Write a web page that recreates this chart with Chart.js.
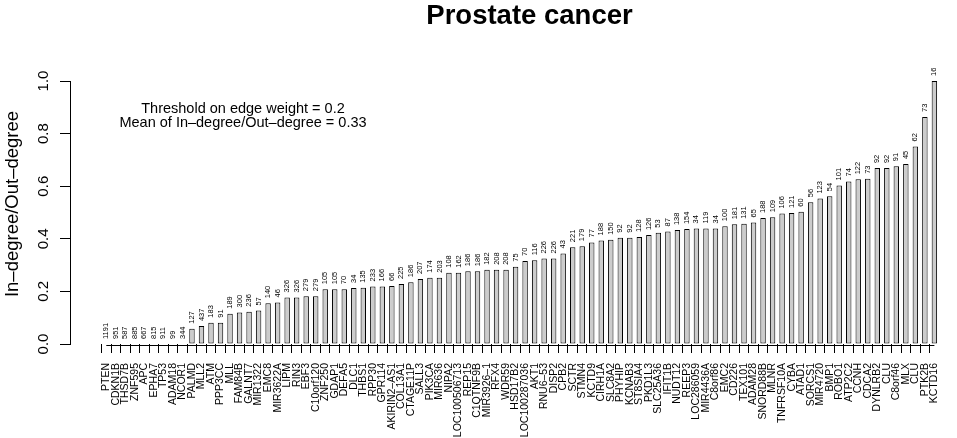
<!DOCTYPE html>
<html><head><meta charset="utf-8">
<script src="https://cdn.jsdelivr.net/npm/chart.js@4"></script>
<style>html,body{margin:0;padding:0;background:#fff}#wrap{width:957px;height:438px}</style>
</head><body><div id="wrap"><canvas id="c" width="957" height="438"></canvas></div>
<script>
const genes = ['PTEN','CDKN1B','THSD7B','ZNF595','APC','EPHA7','TP53','ADAM18','NCOR1','PALMD',
 'MLL2','ATM','PPP3CC','MLL','FAM84B','GALNT7','MIR1322','EMC8','MIR3622A','LIPM',
 'RIN3','EBF3','C10orf120','ZNF250','GDAP1','DEFA5','DLC1','THBS1','RPP30','GPR114',
 'AKIRIN2–AS1','COL13A1','CTAGE11P','SALL3','PIK3CA','MIR636','NIPA2','LOC100506713','REP15','C1QTNF9B',
 'MIR3926–1','RFX4','WDR59','HSD17B2','LOC100287036','AKT1','RNU6–53','DISP2','CPB2','SCTR',
 'STMN4','KCTD9','CIRH1A','SLC8A2','PHYHIP','KCNAB3','ST8SIA4','PKD1L3','SLC25A36','IFIT1B',
 'NUDT12','REEP3','LOC286059','MIR4436A','C8orf86','EMC2','CD226','TEX101','ADAM28','SNORD88B',
 'MLNR','TNFRSF10A','CYBA','ATAD1','SORCS1','MIR4720','BMP1','ROBO1','ATP2C2','CCNH',
 'CDCA2','DYNLRB2','CLU','C8orf46','MLX','CLU','PTK2B','KCTD16'];
const degrees = [1191,951,587,885,667,815,911,99,344,127,
 437,183,91,189,300,236,57,140,46,326,
 326,279,279,105,105,70,34,135,233,166,
 66,225,186,207,174,203,108,162,186,186,
 182,208,208,75,70,116,226,226,43,221,
 179,77,188,150,92,92,128,126,53,87,
 138,154,34,119,34,100,181,131,65,188,
 109,106,121,60,56,123,54,101,74,122,
 73,92,92,91,45,62,73,16];
const ratios = [0,0,0,0,0,0,0,0,0,0.058,
 0.068,0.081,0.081,0.115,0.120,0.123,0.127,0.155,0.158,0.177,
 0.177,0.182,0.182,0.208,0.208,0.208,0.213,0.214,0.219,0.219,
 0.221,0.228,0.235,0.247,0.252,0.252,0.271,0.271,0.277,0.277,
 0.282,0.282,0.282,0.294,0.316,0.318,0.325,0.325,0.344,0.368,
 0.372,0.386,0.394,0.396,0.404,0.404,0.407,0.414,0.423,0.428,
 0.433,0.437,0.439,0.439,0.439,0.448,0.455,0.457,0.462,0.479,
 0.482,0.496,0.498,0.503,0.539,0.553,0.562,0.603,0.618,0.626,
 0.628,0.669,0.669,0.676,0.684,0.751,0.863,1.0];
const yTicks = [0, 0.2, 0.4, 0.6, 0.8, 1.0];
const titleText = 'Prostate cancer';
const yTitle = 'In–degree/Out–degree';
const notes = ['Threshold on edge weight = 0.2', 'Mean of In–degree/Out–degree = 0.33'];

const FONT = "'Liberation Sans', Arial, Helvetica, sans-serif";

const extras = {
  id: 'extras',
  afterDraw(chart) {
    const {ctx, scales: {x, y}} = chart;
    const meta = chart.getDatasetMeta(0);
    ctx.save();
    const y0 = Math.round(y.getPixelForValue(0)) + 1.5;
    ctx.strokeStyle = '#000'; ctx.lineWidth = 1;
    ctx.beginPath();
    ctx.moveTo(x.getPixelForValue(0), y0);
    ctx.lineTo(x.getPixelForValue(genes.length - 1), y0);
    ctx.stroke();
    ctx.fillStyle = '#000';
    ctx.font = '7.5px ' + FONT;
    ctx.textAlign = 'left'; ctx.textBaseline = 'middle';
    meta.data.forEach((bar, i) => {
      ctx.save();
      ctx.translate(bar.x, bar.y - 5);
      ctx.rotate(-Math.PI / 2);
      ctx.fillText(String(degrees[i]), 0, 0);
      ctx.restore();
    });
    ctx.font = '14.5px ' + FONT;
    ctx.textAlign = 'center'; ctx.textBaseline = 'alphabetic';
    ctx.fillText(notes[0], 243, 112.7);
    ctx.fillText(notes[1], 243, 127);
    ctx.font = 'bold 27.5px ' + FONT;
    ctx.fillText(titleText, 529.5, 23.5);
    // y-axis title
    ctx.save();
    ctx.translate(13, 204);
    ctx.rotate(-Math.PI / 2);
    ctx.font = '18.5px ' + FONT;
    ctx.textAlign = 'center'; ctx.textBaseline = 'middle';
    ctx.fillText(yTitle, 0, 0);
    ctx.restore();
    ctx.restore();
  }
};

new Chart(document.getElementById('c'), {
  type: 'bar',
  data: {
    datasets: [{
      data: ratios.map((v, i) => ({x: i, y: v})),
      backgroundColor: '#cccccc', borderColor: '#000', borderWidth: 1, borderSkipped: false,
      barPercentage: 0.57, categoryPercentage: 1
    }]
  },
  options: {
    responsive: false, animation: false, devicePixelRatio: 1,
    layout: {padding: {left: 0, right: 2, top: 81, bottom: 0}},
    plugins: {legend: {display: false}, tooltip: {enabled: false}, title: {display: false}},
    scales: {
      x: {
        type: 'linear', min: -3.814, max: 87.42, offset: false, bounds: 'data',
        afterBuildTicks: s => { s.ticks = genes.map((g, i) => ({value: i})); },
        afterFit: s => { s.height = 94; },
        ticks: {autoSkip: false, minRotation: 90, maxRotation: 90, padding: 10, color: '#000',
          font: {family: FONT, size: 10.5}, callback: v => (genes[v] !== undefined ? genes[v] : '')},
        grid: {drawOnChartArea: false, drawTicks: true, tickLength: 9, color: '#000', lineWidth: 1},
        border: {display: false}
      },
      y: {
        min: 0, max: 1, bounds: 'data',
        afterBuildTicks: s => { s.ticks = yTicks.map(v => ({value: v})); },
        afterFit: s => { s.width = 70; },
        ticks: {minRotation: 90, maxRotation: 90, crossAlign: 'center', padding: 6, color: '#000',
          font: {family: FONT, size: 15}, callback: v => Number(v).toFixed(1)},
        grid: {drawOnChartArea: false, tickLength: 10, color: '#000'},
        border: {display: true, color: '#000', width: 1},
        title: {display: false}
      }
    }
  },
  plugins: [extras]
});
</script>
</body></html>
